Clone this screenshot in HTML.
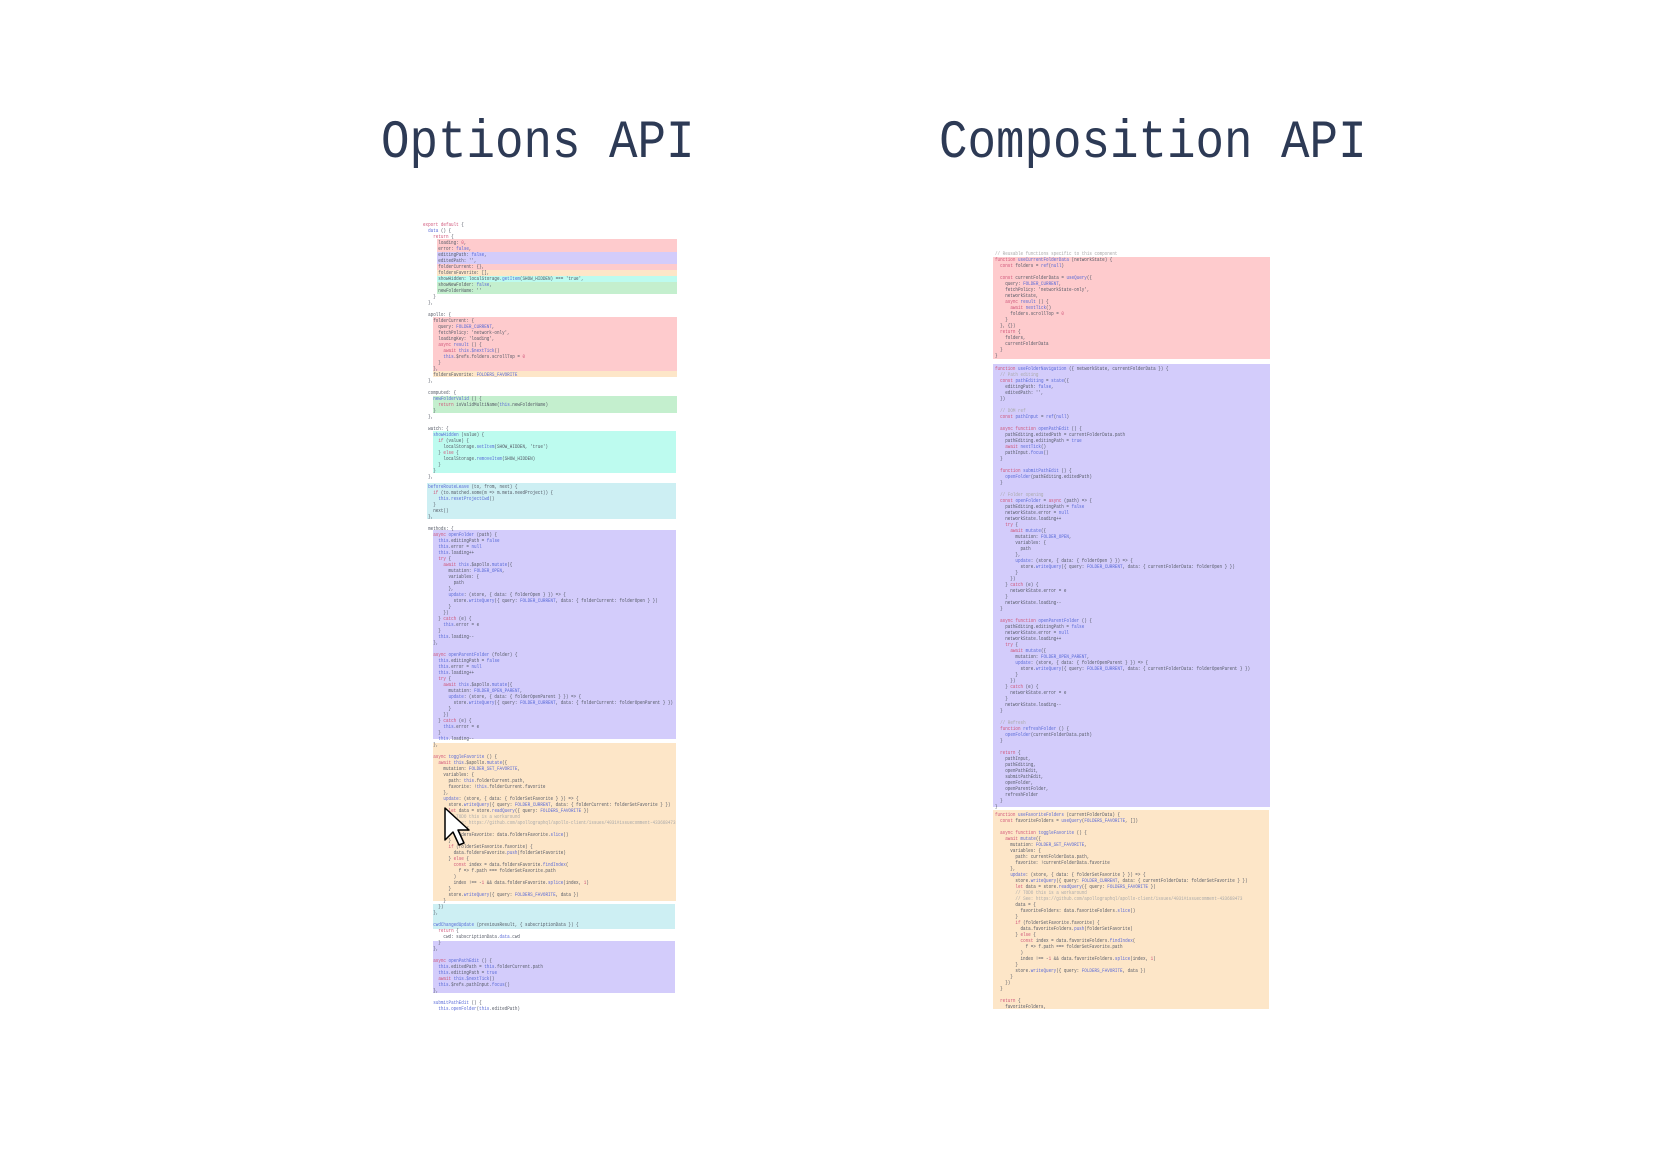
<!DOCTYPE html>
<html><head><meta charset="utf-8"><style>
body{margin:0;width:1662px;height:1150px;background:#fff;position:relative;overflow:hidden}
.t{position:absolute;font-family:"Liberation Mono",monospace;font-size:47.5px;color:#2d3a55;transform-origin:0 0;transform:scaleY(1.14);white-space:pre;line-height:1}
.b{position:absolute}
.r{background:#fecbcd}.p{background:#d3ccfb}.o{background:#fde6c8}.c{background:#bdfbef}.g{background:#c4efce}.l{background:#cdeff3}
.k{position:absolute;font:5px/6px "Liberation Mono",monospace;white-space:pre;color:#555a66;transform-origin:0 0;transform:scaleX(0.85)}
.k i{font-style:normal;color:#d0567a}.k u{text-decoration:none;color:#5a6bd8}.k s{text-decoration:none;color:#aaa}
</style></head><body>
<div class="t" style="left:381px;top:117px">Options API</div>
<div class="t" style="left:939px;top:117px">Composition API</div>

<!-- Options blocks -->
<div class="b r" style="left:437px;top:239px;width:240px;height:13px"></div>
<div class="b p" style="left:437px;top:252px;width:240px;height:12px"></div>
<div class="b r" style="left:437px;top:264px;width:240px;height:6px"></div>
<div class="b o" style="left:437px;top:270px;width:240px;height:6px"></div>
<div class="b c" style="left:437px;top:276px;width:240px;height:6px"></div>
<div class="b g" style="left:437px;top:282px;width:240px;height:12px"></div>
<div class="b r" style="left:433px;top:317px;width:244px;height:54px"></div>
<div class="b o" style="left:433px;top:371px;width:244px;height:6px"></div>
<div class="b g" style="left:433px;top:396px;width:244px;height:17px"></div>
<div class="b c" style="left:433px;top:431px;width:243px;height:42px"></div>
<div class="b l" style="left:427px;top:483px;width:249px;height:36px"></div>
<div class="b p" style="left:433px;top:530px;width:243px;height:209px"></div>
<div class="b o" style="left:433px;top:743px;width:243px;height:158px"></div>
<div class="b l" style="left:433px;top:904px;width:242px;height:25px"></div>
<div class="b p" style="left:433px;top:941px;width:242px;height:52px"></div>

<div class="k" style="left:423px;top:222px"><i>export default</i> {
  <u>data</u> () {
    <i>return</i> {
      loading: <i>0</i>,
      error: <u>false</u>,
      editingPath: <u>false</u>,
      editedPath: '',
      folderCurrent: {},
      foldersFavorite: [],
      showHidden: localStorage.<u>getItem</u>(SHOW_HIDDEN) === 'true',
      showNewFolder: <u>false</u>,
      newFolderName: ''
    }
  },

  apollo: {
    folderCurrent: {
      query: <u>FOLDER_CURRENT</u>,
      fetchPolicy: 'network-only',
      loadingKey: 'loading',
      <i>async</i> <u>result</u> () {
        <i>await</i> <u>this.$nextTick</u>()
        <u>this</u>.$refs.folders.scrollTop = <i>0</i>
      }
    },
    foldersFavorite: <u>FOLDERS_FAVORITE</u>
  },

  computed: {
    <u>newFolderValid</u> () {
      <i>return</i> isValidMultiName(<u>this</u>.newFolderName)
    }
  },

  watch: {
    <u>showHidden</u> (value) {
      <i>if</i> (value) {
        localStorage.<u>setItem</u>(SHOW_HIDDEN, 'true')
      } <i>else</i> {
        localStorage.<u>removeItem</u>(SHOW_HIDDEN)
      }
    }
  },</div>
<div class="k" style="left:423px;top:484px">  <u>beforeRouteLeave</u> (to, from, next) {
    <i>if</i> (to.matched.some(m => m.meta.needProject)) {
      <u>this.resetProjectCwd</u>()
    }
    next()
  },

  methods: {
    <i>async</i> <u>openFolder</u> (path) {
      <u>this</u>.editingPath = <u>false</u>
      <u>this</u>.error = <u>null</u>
      <u>this</u>.loading++
      <i>try</i> {
        <i>await</i> <u>this</u>.$apollo.<u>mutate</u>({
          mutation: <u>FOLDER_OPEN</u>,
          variables: {
            path
          },
          <u>update</u>: (store, { data: { folderOpen } }) => {
            store.<u>writeQuery</u>({ query: <u>FOLDER_CURRENT</u>, data: { folderCurrent: folderOpen } })
          }
        })
      } <i>catch</i> (e) {
        <u>this</u>.error = e
      }
      <u>this</u>.loading--
    },

    <i>async</i> <u>openParentFolder</u> (folder) {
      <u>this</u>.editingPath = <u>false</u>
      <u>this</u>.error = <u>null</u>
      <u>this</u>.loading++
      <i>try</i> {
        <i>await</i> <u>this</u>.$apollo.<u>mutate</u>({
          mutation: <u>FOLDER_OPEN_PARENT</u>,
          <u>update</u>: (store, { data: { folderOpenParent } }) => {
            store.<u>writeQuery</u>({ query: <u>FOLDER_CURRENT</u>, data: { folderCurrent: folderOpenParent } })
          }
        })
      } <i>catch</i> (e) {
        <u>this</u>.error = e
      }
      <u>this</u>.loading--
    },

    <i>async</i> <u>toggleFavorite</u> () {
      <i>await</i> <u>this</u>.$apollo.<u>mutate</u>({
        mutation: <u>FOLDER_SET_FAVORITE</u>,
        variables: {
          path: <u>this</u>.folderCurrent.path,
          favorite: !<u>this</u>.folderCurrent.favorite
        },
        <u>update</u>: (store, { data: { folderSetFavorite } }) => {
          store.<u>writeQuery</u>({ query: <u>FOLDER_CURRENT</u>, data: { folderCurrent: folderSetFavorite } })
          <i>let</i> data = store.<u>readQuery</u>({ query: <u>FOLDERS_FAVORITE</u> })
          <s>// TODO this is a workaround</s>
          <s>// See: https://github.com/apollographql/apollo-client/issues/4031#issuecomment-433668473</s>
          data = {
            foldersFavorite: data.foldersFavorite.<u>slice</u>()
          }
          <i>if</i> (folderSetFavorite.favorite) {
            data.foldersFavorite.<u>push</u>(folderSetFavorite)
          } <i>else</i> {
            <i>const</i> index = data.foldersFavorite.<u>findIndex</u>(
              f => f.path === folderSetFavorite.path
            )
            index !== -<i>1</i> && data.foldersFavorite.<u>splice</u>(index, <i>1</i>)
          }
          store.<u>writeQuery</u>({ query: <u>FOLDERS_FAVORITE</u>, data })
        }
      })
    },

    <u>cwdChangedUpdate</u> (previousResult, { subscriptionData }) {
      <i>return</i> {
        cwd: subscriptionData.<u>data</u>.cwd
      }
    },

    <i>async</i> <u>openPathEdit</u> () {
      <u>this</u>.editedPath = <u>this</u>.folderCurrent.path
      <u>this</u>.editingPath = <u>true</u>
      <i>await</i> <u>this.$nextTick</u>()
      <u>this</u>.$refs.pathInput.<u>focus</u>()
    },

    <u>submitPathEdit</u> () {
      <u>this.openFolder</u>(<u>this</u>.editedPath)</div>

<!-- Composition blocks -->
<div class="b r" style="left:993px;top:257px;width:277px;height:102px"></div>
<div class="b p" style="left:993px;top:364px;width:277px;height:443px"></div>
<div class="b o" style="left:993px;top:810px;width:276px;height:199px"></div>

<div class="k" style="left:995px;top:251px"><s>// Reusable functions specific to this component</s>
<i>function</i> <u>useCurrentFolderData</u> (networkState) {
  <i>const</i> folders = <u>ref</u>(<u>null</u>)

  <i>const</i> currentFolderData = <u>useQuery</u>({
    query: <u>FOLDER_CURRENT</u>,
    fetchPolicy: 'networkState-only',
    networkState,
    <i>async</i> <u>result</u> () {
      <i>await</i> <u>nextTick</u>()
      folders.scrollTop = <i>0</i>
    }
  }, {})
  <i>return</i> {
    folders,
    currentFolderData
  }
}
</div>
<div class="k" style="left:995px;top:366px"><i>function</i> <u>useFolderNavigation</u> ({ networkState, currentFolderData }) {
  <s>// Path editing</s>
  <i>const</i> <u>pathEditing</u> = <u>state</u>({
    editingPath: <u>false</u>,
    editedPath: '',
  })

  <s>// DOM ref</s>
  <i>const</i> <u>pathInput</u> = <u>ref</u>(<u>null</u>)

  <i>async function</i> <u>openPathEdit</u> () {
    pathEditing.editedPath = currentFolderData.path
    pathEditing.editingPath = <u>true</u>
    <i>await</i> <u>nextTick</u>()
    pathInput.<u>focus</u>()
  }

  <i>function</i> <u>submitPathEdit</u> () {
    <u>openFolder</u>(pathEditing.editedPath)
  }

  <s>// Folder opening</s>
  <i>const</i> <u>openFolder</u> = <i>async</i> (path) => {
    pathEditing.editingPath = <u>false</u>
    networkState.error = <u>null</u>
    networkState.loading++
    <i>try</i> {
      <i>await</i> <u>mutate</u>({
        mutation: <u>FOLDER_OPEN</u>,
        variables: {
          path
        },
        <u>update</u>: (store, { data: { folderOpen } }) => {
          store.<u>writeQuery</u>({ query: <u>FOLDER_CURRENT</u>, data: { currentFolderData: folderOpen } })
        }
      })
    } <i>catch</i> (e) {
      networkState.error = e
    }
    networkState.loading--
  }

  <i>async function</i> <u>openParentFolder</u> () {
    pathEditing.editingPath = <u>false</u>
    networkState.error = <u>null</u>
    networkState.loading++
    <i>try</i> {
      <i>await</i> <u>mutate</u>({
        mutation: <u>FOLDER_OPEN_PARENT</u>,
        <u>update</u>: (store, { data: { folderOpenParent } }) => {
          store.<u>writeQuery</u>({ query: <u>FOLDER_CURRENT</u>, data: { currentFolderData: folderOpenParent } })
        }
      })
    } <i>catch</i> (e) {
      networkState.error = e
    }
    networkState.loading--
  }

  <s>// Refresh</s>
  <i>function</i> <u>refreshFolder</u> () {
    <u>openFolder</u>(currentFolderData.path)
  }

  <i>return</i> {
    pathInput,
    pathEditing,
    openPathEdit,
    submitPathEdit,
    openFolder,
    openParentFolder,
    refreshFolder
  }
}
</div>
<div class="k" style="left:995px;top:812px"><i>function</i> <u>useFavoriteFolders</u> (currentFolderData) {
  <i>const</i> favoriteFolders = <u>useQuery</u>(<u>FOLDERS_FAVORITE</u>, [])

  <i>async function</i> <u>toggleFavorite</u> () {
    <i>await</i> <u>mutate</u>({
      mutation: <u>FOLDER_SET_FAVORITE</u>,
      variables: {
        path: currentFolderData.path,
        favorite: !currentFolderData.favorite
      },
      <u>update</u>: (store, { data: { folderSetFavorite } }) => {
        store.<u>writeQuery</u>({ query: <u>FOLDER_CURRENT</u>, data: { currentFolderData: folderSetFavorite } })
        <i>let</i> data = store.<u>readQuery</u>({ query: <u>FOLDERS_FAVORITE</u> })
        <s>// TODO this is a workaround</s>
        <s>// See: https://github.com/apollographql/apollo-client/issues/4031#issuecomment-433668473</s>
        data = {
          favoriteFolders: data.favoriteFolders.<u>slice</u>()
        }
        <i>if</i> (folderSetFavorite.favorite) {
          data.favoriteFolders.<u>push</u>(folderSetFavorite)
        } <i>else</i> {
          <i>const</i> index = data.favoriteFolders.<u>findIndex</u>(
            f => f.path === folderSetFavorite.path
          )
          index !== -<i>1</i> && data.favoriteFolders.<u>splice</u>(index, <i>1</i>)
        }
        store.<u>writeQuery</u>({ query: <u>FOLDERS_FAVORITE</u>, data })
      }
    })
  }

  <i>return</i> {
    favoriteFolders,</div>

<svg style="position:absolute;left:443px;top:806px" width="30" height="42" viewBox="0 0 30 42">
<polygon points="2,2 2,34 10,26 16,39 21,37 15,24 26,24" fill="#fff" stroke="#000" stroke-width="1.5" stroke-linejoin="round"/>
</svg>
</body></html>
